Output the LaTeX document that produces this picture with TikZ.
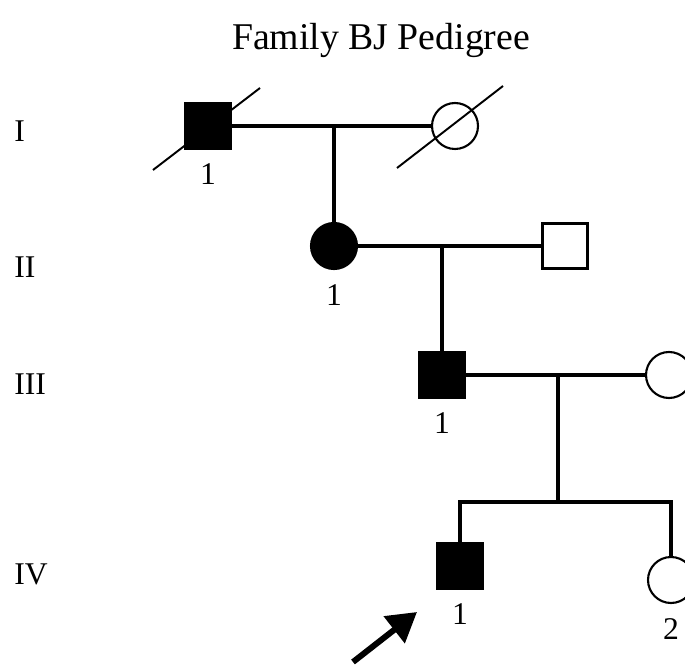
\documentclass[tikz,border=0pt]{standalone}
\usepackage{fontspec}
\setmainfont{Liberation Serif}
\usepackage{tikz}
\usetikzlibrary{calc,arrows.meta}
\definecolor{ink}{HTML}{000000}
\definecolor{paper}{HTML}{FFFFFF}
\tikzset{
  rel/.style={draw=ink, line width=2.2pt},
  dead/.style={draw=ink, line width=1.1pt},
  male/.style={rectangle, draw=ink, line width=1.2pt, fill=paper, minimum size=0.9cm, inner sep=0pt},
  female/.style={circle, draw=ink, line width=1.2pt, fill=paper, minimum size=0.92cm, inner sep=0pt},
  aff/.style={fill=ink},
  lab/.style={text=ink, font=\fontsize{18}{20}\selectfont, inner sep=2pt},
  gen/.style={lab, anchor=west, inner sep=0pt},
  title/.style={text=ink, font=\fontsize{21.5}{24}\selectfont},
  proband/.style={draw=ink, line width=3.4pt, -{Triangle[length=0.58cm,width=0.66cm]}},
}

\begin{document}
\begin{tikzpicture}[x=0.02cm, y=-0.02cm, label distance=6pt, every label/.style={lab}]
  \useasboundingbox (0,0) rectangle (685,668);

  \coordinate (m1) at (334,126);
  \coordinate (m2) at (442,246);
  \coordinate (m3) at (558,375);
  \coordinate (s3) at (558,502);
  \coordinate (pb) at (353,662);
  \coordinate (pt) at (417,612);

  \node[title] (ttl) at (381,40) {Family BJ Pedigree};
  \node[gen] (gI) at (14,131) {I};
  \node[gen] (gII) at (14,267) {II};
  \node[gen] (gIII) at (14,384) {III};
  \node[gen] (gIV) at (14,574) {IV};

  \draw[rel] (m1) -- (m1 |- 0,246);
  \draw[rel] (m2) -- (m2 |- 0,375);
  \draw[rel] (m3) -- (s3);

  \node[male,aff,label={below:1}] (I1) at (208,126) {};
  \node[female] (I2) at (455,126) {};
  \node[female,aff,label={below:1}] (II1) at (334,246) {};
  \node[male] (II2) at (565,246) {};
  \node[male,aff,label={below:1}] (III1) at (442,375) {};
  \node[female] (III2) at (669,375) {};
  \node[male,aff,label={below:1}] (IV1) at (460,566) {};
  \node[female,label={below:2}] (IV2) at (671,580) {};

  \draw[rel] (I1.east) -- (I2.west);
  \draw[rel] (II1.east) -- (II2.west);
  \draw[rel] (III1.east) -- (III2.west);
  \draw[rel] (IV1.north) |- (s3) -| (IV2.north);

  \draw[dead] ($(I1)+(-55,44)$) -- ($(I1)+(52,-38)$);
  \draw[dead] ($(I2)+(-58,42)$) -- ($(I2)+(48,-40)$);

  \draw[proband] (pb) -- (pt);
\end{tikzpicture}
\end{document}
